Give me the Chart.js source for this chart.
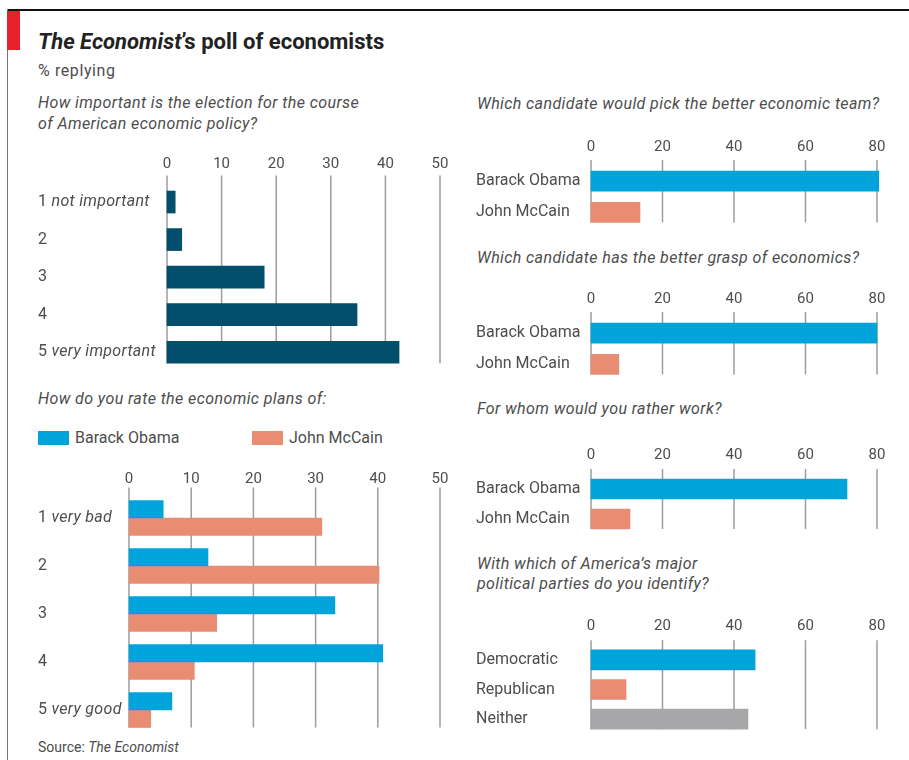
<!DOCTYPE html>
<html><head><meta charset="utf-8">
<script src="https://cdn.jsdelivr.net/npm/chart.js@4/dist/chart.umd.min.js"></script>
<style>
html,body{margin:0;padding:0;background:#fff;}
#page{position:relative;width:909px;height:760px;overflow:hidden;font-family:Roboto,sans-serif;color:#4d4d4d;}
.abs{position:absolute;}
.q{font-style:italic;font-size:16px;letter-spacing:0.4px;line-height:21px;color:#4d4d4d;white-space:nowrap;}
.sw{position:absolute;width:31px;height:14px;}
.lg{position:absolute;font-size:16px;line-height:20px;color:#4d4d4d;white-space:nowrap;}
</style></head><body>
<div id="page">
  <div class="abs" style="left:7px;top:9px;width:902px;height:2px;background:#111"></div>
  <div class="abs" style="left:7px;top:9px;width:1px;height:751px;background:#777"></div>
  <div class="abs" style="left:7px;top:11px;width:13px;height:39px;background:#e8202a"></div>
  <div class="abs" style="left:38px;top:29px;font-size:22px;font-weight:bold;line-height:26px;color:#222;white-space:nowrap"><i>The Economist</i>’s poll of economists</div>
  <div class="abs" style="left:38px;top:61px;font-size:16px;letter-spacing:0.6px;line-height:20px;color:#4d4d4d">% replying</div>
  <div class="abs q" style="left:38px;top:92px">How important is the election for the course<br>of American economic policy?</div>
  <div class="abs q" style="left:38px;top:388px">How do you rate the economic plans of:</div>
  <div id="legend"></div>
  <div class="abs" style="left:38px;top:737px;font-size:14px;line-height:20px;color:#4d4d4d">Source: <i>The Economist</i></div>
  <div class="abs q" style="left:477px;top:93px">Which candidate would pick the better economic team?</div>
  <div class="abs q" style="left:477px;top:247px">Which candidate has the better grasp of economics?</div>
  <div class="abs q" style="left:477px;top:398px">For whom would you rather work?</div>
  <div class="abs q" style="left:477px;top:554px;line-height:20px">With which of America’s major<br>political parties do you identify?</div>

  <div class="abs" style="left:38px;top:141px;width:422px;height:230px"><canvas id="c1" width="422" height="230"></canvas></div>
  <div class="abs" style="left:38px;top:450px;width:422px;height:284px"><canvas id="c2" width="422" height="284"></canvas></div>
  <div class="abs" style="left:476px;top:127px;width:433px;height:111px"><canvas id="c3" width="433" height="111"></canvas></div>
  <div class="abs" style="left:476px;top:279px;width:433px;height:111px"><canvas id="c4" width="433" height="111"></canvas></div>
  <div class="abs" style="left:476px;top:436px;width:433px;height:108px"><canvas id="c5" width="433" height="108"></canvas></div>
  <div class="abs" style="left:476px;top:607px;width:433px;height:137px"><canvas id="c6" width="433" height="137"></canvas></div>
</div>
<script>
// ---- data ----
const importanceLabels = ['1 not important', '2', '3', '4', '5 very important'];
const importanceValues = [1.5, 2.7, 17.8, 34.8, 42.5];

const ratingLabels = ['1 very bad', '2', '3', '4', '5 very good'];
const seriesNames = ['Barack Obama', 'John McCain'];
const obamaPlan = [5.5, 12.7, 33.1, 40.8, 6.9];
const mccainPlan = [31.0, 40.2, 14.1, 10.5, 3.5];

const candidates = ['Barack Obama', 'John McCain'];
const econTeam = [80.5, 13.7];
const econGrasp = [80.0, 7.8];
const ratherWork = [71.6, 10.9];

const parties = ['Democratic', 'Republican', 'Neither'];
const partyValues = [45.9, 9.8, 43.9];

const leftAxisMax = 50, leftAxisStep = 10;
const rightAxisMax = 80, rightAxisStep = 20;

// ---- styles ----
const NAVY = '#024e6b', BLUE = '#00a4db', SALMON = '#e88d72', GREY = '#a7a7a9';
const TXT = '#4d4d4d';
Chart.defaults.font.family = 'Roboto';

// legend
(function(){
  const lg = document.getElementById('legend');
  const cols = [BLUE, SALMON];
  const pos = [38, 252];
  seriesNames.forEach((n, i) => {
    const s = document.createElement('div'); s.className = 'sw';
    s.style.left = pos[i] + 'px'; s.style.top = '431px'; s.style.background = cols[i];
    lg.appendChild(s);
    const t = document.createElement('div'); t.className = 'lg';
    t.style.left = (pos[i] + 37) + 'px'; t.style.top = '428px'; t.textContent = n;
    lg.appendChild(t);
  });
})();

const gridPlugin = {
  id: 'vgrid',
  beforeDatasetsDraw(chart) {
    const xs = chart.scales.x, ys = chart.scales.y;
    let fTop = Infinity, fBot = -Infinity, lBot = -Infinity;
    chart.data.datasets.forEach((ds, i) => {
      const els = chart.getDatasetMeta(i).data;
      const f = els[0], l = els[els.length - 1];
      fTop = Math.min(fTop, f.y - f.height / 2);
      fBot = Math.max(fBot, f.y + f.height / 2);
      lBot = Math.max(lBot, l.y + l.height / 2);
    });
    const spacing = ys.getPixelForValue(1) - ys.getPixelForValue(0);
    const gap = spacing - (fBot - fTop);
    const top = fTop - gap;
    const ctx = chart.ctx;
    ctx.save();
    ctx.strokeStyle = '#9c9c9c';
    ctx.lineWidth = 1.5;
    xs.ticks.forEach(t => {
      const px = xs.getPixelForValue(t.value);
      ctx.beginPath(); ctx.moveTo(px, top); ctx.lineTo(px, lBot); ctx.stroke();
    });
    ctx.restore();
  }
};

const labelPlugin = {
  id: 'ylabels',
  afterDraw(chart) {
    const ys = chart.scales.y, ctx = chart.ctx;
    ctx.save();
    ctx.fillStyle = TXT; ctx.textBaseline = 'middle'; ctx.textAlign = 'left';
    try { ctx.letterSpacing = '0.3px'; } catch (e) {}
    chart.data.labels.forEach((lab, i) => {
      const py = ys.getPixelForValue(i);
      const sp = lab.indexOf(' ');
      const num = sp < 0 ? lab : lab.slice(0, sp);
      const rest = sp < 0 ? '' : lab.slice(sp);
      ctx.font = '16px Roboto';
      ctx.fillText(num, 0, py);
      if (rest) {
        const w = ctx.measureText(num).width;
        ctx.font = 'italic 16px Roboto';
        ctx.fillText(rest, w, py);
      }
    });
    ctx.restore();
  }
};

function makeChart(id, labels, datasets, o) {
  return new Chart(document.getElementById(id), {
    type: 'bar',
    data: { labels, datasets },
    options: {
      indexAxis: 'y', responsive: false, maintainAspectRatio: false, animation: false,
      layout: { padding: { left: 0, right: o.padRight, top: 0, bottom: 0 } },
      plugins: { legend: { display: false }, tooltip: { enabled: false } },
      scales: {
        x: {
          position: 'top', min: 0, max: o.max,
          ticks: { stepSize: o.step, padding: o.tickPad, color: TXT, font: { size: 15 } },
          grid: { display: false, drawTicks: false }, border: { display: false },
          afterFit: s => { s.height = o.xh; }
        },
        y: {
          ticks: { display: !o.custom, crossAlign: 'far', padding: 0, color: TXT, font: { size: 16, lineHeight: 1.25 } },
          grid: { display: false, drawTicks: false }, border: { display: false },
          afterFit: s => { s.width = o.yw; }
        }
      }
    },
    plugins: o.custom ? [gridPlugin, labelPlugin] : [gridPlugin]
  });
}

function ds(data, color, thick) {
  return { data, backgroundColor: color, borderWidth: 0, barThickness: thick, clip: false };
}

makeChart('c1', importanceLabels, [ds(importanceValues, NAVY, 22)],
  { max: leftAxisMax, step: leftAxisStep, padRight: 20, tickPad: 10, xh: 42.25, yw: 129, custom: true });

makeChart('c2', ratingLabels, [
  Object.assign(ds(obamaPlan, BLUE, 17.5), { label: seriesNames[0] }),
  Object.assign(ds(mccainPlan, SALMON, 17.5), { label: seriesNames[1] })
], { max: leftAxisMax, step: leftAxisStep, padRight: 20, tickPad: 6, xh: 44, yw: 91, custom: true });

const rOpts = (xh, pad) => ({ max: rightAxisMax, step: rightAxisStep, padRight: 32, tickPad: pad, xh, yw: 115, custom: false });
makeChart('c3', candidates, [ds(econTeam, [BLUE, SALMON], 20)], rOpts(38.5, 9.5));
makeChart('c4', candidates, [ds(econGrasp, [BLUE, SALMON], 20)], rOpts(38.5, 9.5));
makeChart('c5', candidates, [ds(ratherWork, [BLUE, SALMON], 20)], rOpts(38, 10));
makeChart('c6', parties, [ds(partyValues, [BLUE, SALMON, GREY], 20)], rOpts(38, 10));
</script>
</body></html>
